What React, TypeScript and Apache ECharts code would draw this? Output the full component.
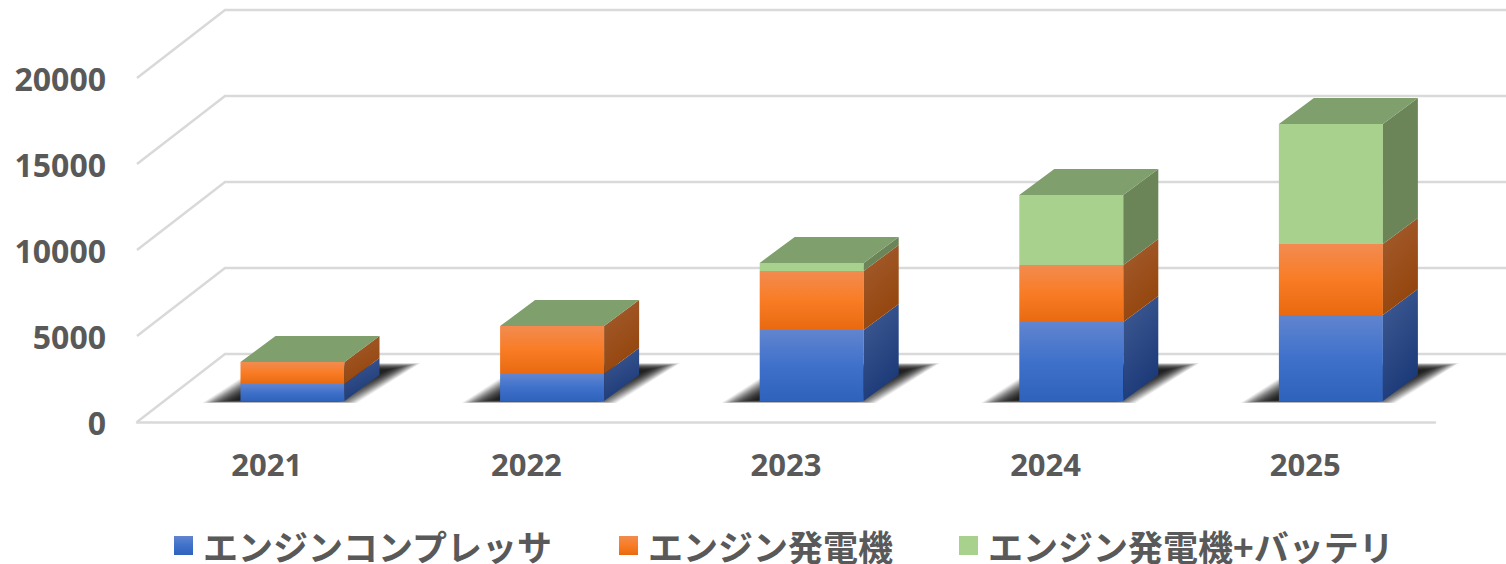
import React, { useEffect, useRef } from "react";
import * as echarts from "echarts";

const years = ["2021", "2022", "2023", "2024", "2025"];
const compressor = [990, 1570, 4130, 4590, 5000];
const generator = [1280, 2790, 3430, 3310, 4130];
const hybrid = [0, 0, 470, 4070, 6980];
const ticks = [0, 5000, 10000, 15000, 20000];
const names = ["エンジンコンプレッサ", "エンジン発電機", "エンジン発電機+バッテリ"];

const GRAD = (stops: [number, string][], x2 = 0, y2 = 1) =>
  new echarts.graphic.LinearGradient(0, 0, x2, y2, stops.map(([offset, color]) => ({ offset, color })));

const blueFront = () => GRAD([[0, "#6185cf"], [0.5, "#3f71cb"], [1, "#2f62bb"]]);
const orangeFront = () => GRAD([[0, "#f28b50"], [0.5, "#f97c25"], [1, "#e8690f"]]);
const greenFront = () => GRAD([[0, "#a9d18e"], [1, "#a9d18e"]]);
const blueSide = () => GRAD([[0, "#405c95"], [1, "#1c3a78"]], 0.4, 1);
const orangeSide = () => GRAD([[0, "#a45d30"], [1, "#94450c"]], 0.4, 1);
const greenSide = () => GRAD([[0, "#6b8558"], [1, "#6b8558"]]);
const topColor = "#7f9f6c";

const fronts = [blueFront, orangeFront, greenFront];
const sides = [blueSide, orangeSide, greenSide];

// 3D projection constants, in pixels
const WALL_DX = 88;
const WALL_DY = -68;
const BAR_OFFSET_X = -26.3;
const BAR_WIDTH = 104;
const BAR_LIFT = -21;
const BAR_DX = 35;
const BAR_DY = -26;
const SHADOW_LAYERS = 30;

const stacks = [compressor, generator, hybrid];
function segments(s: number) {
  return years.map((_, i) => {
    let base = 0;
    for (let k = 0; k < s; k++) base += stacks[k][i];
    return [i, base, base + stacks[s][i]];
  });
}

function barItem(s: number) {
  return (_p: any, api: any) => {
    const i = api.value(0);
    const [cx, y0raw] = api.coord([i, api.value(1)]);
    const [, y1raw] = api.coord([i, api.value(2)]);
    const L = cx + BAR_OFFSET_X;
    const R = L + BAR_WIDTH;
    const y0 = y0raw + BAR_LIFT;
    const y1 = y1raw + BAR_LIFT;
    const children: any[] = [];
    if (y0 - y1 > 0.01) {
      children.push({
        type: "polygon",
        shape: { points: [[L, y1], [R, y1], [R, y0], [L, y0]] },
        style: { fill: fronts[s]() },
      });
      children.push({
        type: "polygon",
        shape: { points: [[R, y1], [R + BAR_DX, y1 + BAR_DY], [R + BAR_DX, y0 + BAR_DY], [R, y0]] },
        style: { fill: sides[s]() },
      });
    }
    if (s === stacks.length - 1) {
      children.push({
        type: "polygon",
        shape: { points: [[L, y1], [L + BAR_DX, y1 + BAR_DY], [R + BAR_DX, y1 + BAR_DY], [R, y1]] },
        style: { fill: topColor },
      });
    }
    return { type: "group", children };
  };
}

// soft floor shadow: stacked translucent parallelograms
function shadowItem(_p: any, api: any) {
  const i = api.value(0);
  const [cx, y0raw] = api.coord([i, 0]);
  const L = cx + BAR_OFFSET_X;
  const R = L + BAR_WIDTH;
  const floor = y0raw + BAR_LIFT;
  const children: any[] = [];
  for (let k = 0; k < SHADOW_LAYERS; k++) {
    const f = Math.pow(k / (SHADOW_LAYERS - 1), 0.85);
    const inset = f * 34;
    const b = floor + 2 - f * 3;
    const t = floor - 38 + f * 7;
    children.push({
      type: "polygon",
      shape: {
        points: [
          [L - 38 + inset, b],
          [R + 12 - inset, b],
          [R + 76 - inset, t],
          [L + 24 + inset, t],
        ],
      },
      style: { fill: "rgba(25,25,25,0.085)" },
    });
  }
  return { type: "group", children };
}

function gridItem(p: any, api: any) {
  const y = api.coord([0, api.value(0)])[1];
  const x = p.coordSys.x;
  const w = p.coordSys.width;
  return {
    type: "polyline",
    shape: {
      points: [[x, y], [x + WALL_DX, y + WALL_DY], [x + w + WALL_DX, y + WALL_DY]],
    },
    style: { fill: "none", stroke: "#d9d9d9", lineWidth: 2.5 },
  };
}

export default function App() {
  const ref = useRef<HTMLDivElement>(null);
  useEffect(() => {
    const chart = echarts.init(ref.current!, undefined, { renderer: "svg" });
    chart.setOption({
      animation: false,
      backgroundColor: "#ffffff",
      grid: { left: 137, top: 78, width: 1298, height: 344, containLabel: false },
      xAxis: {
        type: "category",
        data: years,
        axisLine: { show: true, lineStyle: { color: "#d9d9d9", width: 2.5 } },
        axisTick: { show: false },
        axisLabel: {
          fontFamily: "Open Sans",
          fontWeight: "bold",
          fontSize: 31,
          color: "#595959",
          margin: 26,
        },
      },
      yAxis: {
        type: "value",
        min: 0,
        max: 20000,
        interval: 5000,
        axisLine: { show: false },
        axisTick: { show: false },
        splitLine: { show: false },
        axisLabel: {
          fontFamily: "Open Sans",
          fontWeight: "bold",
          fontSize: 32,
          color: "#595959",
          margin: 31,
          padding: [0, 0, 3, 0],
          formatter: (v: number) => String(v),
        },
      },
      legend: {
        left: 169,
        top: 523,
        itemWidth: 19,
        itemHeight: 19,
        itemGap: 66,
        selectedMode: false,
        icon: "rect",
        textStyle: {
          fontFamily: "Noto Sans CJK JP",
          fontWeight: "bold",
          fontSize: 35,
          color: "#595959",
          padding: [0, 0, 0, 5],
        },
        data: names.map((name, s) => ({ name, itemStyle: { color: fronts[s]() } })),
      },
      series: [
        {
          type: "custom",
          name: "grid",
          z: 1,
          clip: false,
          silent: true,
          encode: { y: 0 },
          renderItem: gridItem,
          data: ticks.map((t) => [t]),
        },
        {
          type: "custom",
          name: "shadow",
          z: 2,
          clip: false,
          silent: true,
          encode: { x: 0 },
          renderItem: shadowItem,
          data: years.map((_, i) => [i]),
        },
        ...names.map((name, s) => ({
          type: "custom",
          name,
          z: 3 + s,
          clip: false,
          encode: { x: 0, y: [1, 2] },
          renderItem: barItem(s),
          data: segments(s),
        })),
      ],
    });
    return () => chart.dispose();
  }, []);
  return (
    <div
      ref={ref}
      style={{ position: "absolute", left: 0, top: 0, width: 1506, height: 564, overflow: "hidden" }}
    />
  );
}
